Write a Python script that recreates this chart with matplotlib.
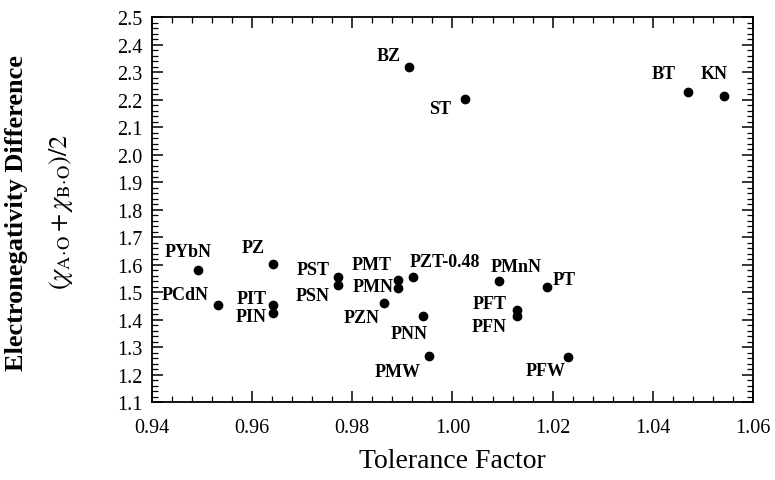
import matplotlib
matplotlib.use("Agg")
import matplotlib.pyplot as plt
from matplotlib.ticker import MultipleLocator, FormatStrFormatter

plt.rcParams['font.family'] = ['Liberation Serif', 'DejaVu Serif']
plt.rcParams['mathtext.fontset'] = 'stix'

# compounds: tolerance factor vs electronegativity difference
names = ["BZ", "ST", "BT", "KN", "PYbN", "PZ", "PCdN", "PIT", "PIN", "PST",
         "PSN", "PMT", "PMN", "PZN", "PZT-0.48", "PNN", "PMW", "PMnN", "PT",
         "PFT", "PFN", "PFW"]
tolerance = [0.9914, 1.0025, 1.0471, 1.0542, 0.9492, 0.9642, 0.9532, 0.9642,
             0.9642, 0.9771, 0.9771, 0.9892, 0.9892, 0.9863, 0.9922, 0.9942,
             0.9953, 1.0093, 1.0189, 1.0128, 1.0128, 1.0231]
electroneg = [2.318, 2.204, 2.230, 2.215, 1.581, 1.604, 1.454, 1.454, 1.425,
              1.557, 1.527, 1.545, 1.515, 1.461, 1.557, 1.415, 1.267, 1.541,
              1.518, 1.437, 1.413, 1.265]

# label offsets in pixels (dx, dy) relative to the dot
offsets = {
    "BZ": (-21, 12), "ST": (-25, -10), "BT": (-25, 18), "KN": (-10, 22),
    "PYbN": (-10, 19), "PZ": (-20, 16), "PCdN": (-33, 10), "PIT": (-21, 6),
    "PIN": (-22, -4), "PST": (-25, 7), "PSN": (-25, -11), "PMT": (-27, 15),
    "PMN": (-25, 2), "PZN": (-22, -14), "PZT-0.48": (32, 15), "PNN": (-14, -18),
    "PMW": (-31, -15), "PMnN": (17, 15), "PT": (17, 8), "PFT": (-27, 6),
    "PFN": (-27, -10), "PFW": (-23, -14),
}

fig = plt.figure(figsize=(7.75, 4.81), dpi=100)
ax = fig.add_axes([0.196, 0.1615, 0.7756, 0.8005])

ax.scatter(tolerance, electroneg, s=36, color='black', zorder=3)

for n, x, y in zip(names, tolerance, electroneg):
    dx, dy = offsets[n]
    ax.annotate(n, (x, y), xytext=(dx, dy), textcoords='offset pixels',
                ha='center', va='center', fontsize=13, fontweight='bold')

ax.set_xlim(0.94, 1.06)
ax.set_ylim(1.1, 2.5)
ax.xaxis.set_major_locator(MultipleLocator(0.02))
ax.xaxis.set_minor_locator(MultipleLocator(0.004))
ax.yaxis.set_major_locator(MultipleLocator(0.1))
ax.yaxis.set_minor_locator(MultipleLocator(0.02))
ax.xaxis.set_major_formatter(FormatStrFormatter('%.2f'))
ax.yaxis.set_major_formatter(FormatStrFormatter('%.1f'))

ax.tick_params(which='both', direction='in', top=True, right=True, labelsize=14.5)
ax.tick_params(which='major', length=8, width=1.1)
ax.tick_params(which='minor', length=4, width=0.9)
ax.tick_params(axis='x', which='major', pad=11)
ax.tick_params(axis='y', which='major', pad=7)
for sp in ax.spines.values():
    sp.set_linewidth(1.3)

ax.set_xlabel("Tolerance Factor", fontsize=20, labelpad=8)
fig.text(0.021, 0.557, "Electronegativity Difference", rotation=90,
         ha='center', va='center', fontsize=19, fontweight='bold')
fig.text(0.079, 0.559, r'$(\chi_{\mathrm{A\!\cdot\!O}}+\chi_{\mathrm{B\!\cdot\!O}})/2$',
         rotation=90, ha='center', va='center', fontsize=19)

fig.savefig("out.png", dpi=100)
